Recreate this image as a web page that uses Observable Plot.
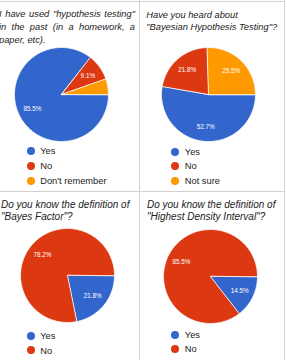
<!DOCTYPE html>
<html><head><meta charset="utf-8">
<script src="https://cdn.jsdelivr.net/npm/d3@7"></script>
<script src="https://cdn.jsdelivr.net/npm/@observablehq/plot@0.6"></script>
<style>
html,body{margin:0;padding:0;background:#fff;}
#root{position:relative;width:287px;height:360px;overflow:hidden;font-family:"Liberation Sans",Arial,sans-serif;color:#222;background:#fff;}
.title{position:absolute;font-style:italic;white-space:nowrap;}
.title .j{text-align:justify;text-align-last:justify;white-space:normal;}
.rule{position:absolute;background:#d2d2d2;}
.item{position:absolute;font-size:9.3px;white-space:nowrap;height:14px;line-height:14px;}
.dot{position:absolute;width:8px;height:8px;border-radius:50%;}
.pie{position:absolute;}
</style>
</head><body>
<div id="root"></div>
<script>
// ---- data ----
const q1Title = ["I have used \"hypothesis testing\"", "in the past (in a homework, a", "paper, etc)."];
const q1Categories = ["Yes", "No", "Don't remember"];
const q1Values = [85.5, 9.1, 5.4];

const q2Title = ["Have you heard about", "\"Bayesian Hypothesis Testing\"?"];
const q2Categories = ["Yes", "No", "Not sure"];
const q2Values = [52.7, 21.8, 25.5];

const q3Title = ["Do you know the definition of", "\"Bayes Factor\"?"];
const q3Categories = ["Yes", "No"];
const q3Values = [21.8, 78.2];

const q4Title = ["Do you know the definition of", "\"Highest Density Interval\"?"];
const q4Categories = ["Yes", "No"];
const q4Values = [14.5, 85.5];

const colorDomain = ["Yes", "No", "Don't remember", "Not sure"];
const colorRange = ["#3366cc", "#dc3912", "#ff9900", "#ff9900"];

// ---- layout ----
const root = document.getElementById("root");
function rule(x, y, w, h) {
  const d = document.createElement("div");
  d.className = "rule";
  Object.assign(d.style, {left: x + "px", top: y + "px", width: w + "px", height: h + "px"});
  root.appendChild(d);
}

const R = 47;
function panel(cfg) {
  const {title, cats, vals, cx, cy, tx, ty, tw, lh, fs, justifyLines, lx, ly, lstep} = cfg;
  // title
  const t = document.createElement("div");
  t.className = "title";
  Object.assign(t.style, {left: tx + "px", top: ty + "px", width: tw + "px", lineHeight: lh + "px", fontSize: fs + "px"});
  title.forEach((line, i) => {
    const l = document.createElement("div");
    if (i < justifyLines) l.className = "j";
    l.textContent = line;
    t.appendChild(l);
  });
  root.appendChild(t);

  // pie
  const arcs = d3.pie().sort(null).startAngle(Math.PI / 2).endAngle(Math.PI / 2 + 2 * Math.PI)
    .value((d, i) => vals[i])(cats);
  const pts = [];
  arcs.forEach((a, i) => {
    const cat = cats[i];
    pts.push({cat, x: 0, y: 0});
    const n = Math.max(2, Math.ceil((a.endAngle - a.startAngle) / (Math.PI / 180)));
    for (let k = 0; k <= n; k++) {
      const ang = a.startAngle + (a.endAngle - a.startAngle) * k / n;
      pts.push({cat, x: Math.sin(ang), y: Math.cos(ang)});
    }
  });
  const labels = arcs.map((a, i) => {
    const mid = (a.startAngle + a.endAngle) / 2;
    return {x: 0.69 * Math.sin(mid), y: 0.69 * Math.cos(mid), text: vals[i].toFixed(1) + "%", v: vals[i]};
  }).filter(d => d.v >= 8);

  const svg = Plot.plot({
    width: 2 * R + 2, height: 2 * R + 2, margin: 1,
    x: {domain: [-1, 1], axis: null},
    y: {domain: [-1, 1], axis: null},
    color: {domain: colorDomain, range: colorRange},
    style: {fontFamily: "'Liberation Sans', Arial, sans-serif", background: "transparent", overflow: "visible"},
    marks: [
      Plot.line(pts, {x: "x", y: "y", z: "cat", fill: "cat", stroke: "white", strokeWidth: 0.8, curve: "linear-closed"}),
      Plot.text(labels, {x: "x", y: "y", text: "text", fill: "white", fontSize: 6.3})
    ]
  });
  const wrap = document.createElement("div");
  wrap.className = "pie";
  Object.assign(wrap.style, {left: (cx - R - 1) + "px", top: (cy - R - 1) + "px"});
  wrap.appendChild(svg);
  root.appendChild(wrap);

  // legend
  cats.forEach((c, i) => {
    const y = ly + i * lstep;
    const dot = document.createElement("div");
    dot.className = "dot";
    Object.assign(dot.style, {left: (lx - 4) + "px", top: (y - 4) + "px", background: colorRange[colorDomain.indexOf(c)]});
    root.appendChild(dot);
    const it = document.createElement("div");
    it.className = "item";
    Object.assign(it.style, {left: (lx + 9.5) + "px", top: (y - 6.8) + "px"});
    it.textContent = c;
    root.appendChild(it);
  });
}

panel({title: q1Title, cats: q1Categories, vals: q1Values, cx: 61, cy: 94,
  tx: -1, ty: 7.5, tw: 136, lh: 13.3, fs: 9.3, justifyLines: 2, lx: 30.7, ly: 151, lstep: 14.8});
panel({title: q2Title, cats: q2Categories, vals: q2Values, cx: 208, cy: 94,
  tx: 146.3, ty: 9, tw: 135, lh: 12.3, fs: 9.3, justifyLines: 0, lx: 175.3, ly: 151.6, lstep: 14.5});
panel({title: q3Title, cats: q3Categories, vals: q3Values, cx: 67, cy: 275,
  tx: 1, ty: 198.8, tw: 137, lh: 12.3, fs: 10, justifyLines: 0, lx: 30.7, ly: 336, lstep: 14.3});
panel({title: q4Title, cats: q4Categories, vals: q4Values, cx: 210, cy: 276,
  tx: 147, ty: 198.8, tw: 137, lh: 12.3, fs: 10, justifyLines: 0, lx: 175.3, ly: 334.6, lstep: 14.6});

// frame rules
rule(0, 0.5, 285, 1);
rule(138.5, 0, 1, 360);
rule(0, 190.5, 285, 1);
rule(283.5, 0, 1.5, 360);
</script>
</body></html>
